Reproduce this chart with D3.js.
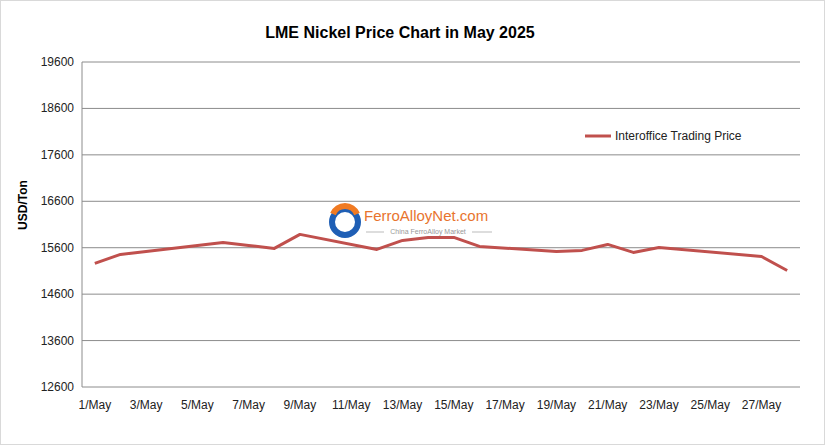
<!DOCTYPE html><html><head><meta charset="utf-8"><script src="https://cdn.jsdelivr.net/npm/d3@7"></script>
<style>body{margin:0;background:#fff;font-family:"Liberation Sans",Arial,sans-serif}</style></head><body><svg id="c" width="825" height="445"></svg><script>
const days = d3.range(1,29).map(d=>d+"/May");
const tradeDays = [1,2,6,7,8,9,12,13,14,15,16,19,20,21,22,23,27,28];
const prices = [15262,15456,15714,15650,15585,15887,15563,15757,15822,15822,15628,15520,15542,15671,15499,15606,15412,15110];
const yTicks = [12600,13600,14600,15600,16600,17600,18600,19600];
const seriesName = "Interoffice Trading Price";
const svg=d3.select("#c");
svg.append("rect").attr("x",0.5).attr("y",0.5).attr("width",824).attr("height",444).attr("fill","#fff").attr("stroke","#d9d9d9");
const L=82,R=800,T=62,B=387;
const x=d3.scaleBand().domain(days).range([L,R]);
const y=d3.scaleLinear().domain([12600,19600]).range([B,T]);
svg.append("g").selectAll("line").data(yTicks).join("line").attr("x1",L).attr("x2",R).attr("y1",d=>y(d)).attr("y2",d=>y(d)).attr("stroke","#8c8c8c").attr("stroke-width",1);
svg.append("line").attr("x1",L).attr("x2",L).attr("y1",T).attr("y2",B).attr("stroke","#8c8c8c");
svg.append("g").selectAll("text").data(yTicks).join("text").attr("x",L-8).attr("y",d=>y(d)+4).attr("text-anchor","end").attr("font-size",12).attr("fill","#222").text(d=>d);
svg.append("g").selectAll("text").data(days.filter((d,i)=>i%2==0)).join("text").attr("x",d=>x(d)+x.bandwidth()/2).attr("y",409).attr("text-anchor","middle").attr("font-size",12).attr("fill","#222").text(d=>d);
svg.append("text").attr("x",400).attr("y",38).attr("text-anchor","middle").attr("font-size",16).attr("font-weight","bold").text("LME Nickel Price Chart in May 2025");
svg.append("text").attr("transform","translate(27,205) rotate(-90)").attr("text-anchor","middle").attr("font-size",12).attr("font-weight","bold").text("USD/Ton");
// watermark
const wm=svg.append("g");
wm.append("circle").attr("cx",345).attr("cy",222).attr("r",13).attr("fill","none").attr("stroke","#1f5fb5").attr("stroke-width",6);
wm.append("path").attr("d","M333,214 A13,13 0 0 1 357,214").attr("fill","none").attr("stroke","#f07a22").attr("stroke-width",6);
wm.append("text").attr("x",364).attr("y",221).attr("font-size",15).attr("fill","#e8742e").text("FerroAlloyNet.com");
wm.append("text").attr("x",428).attr("y",234).attr("text-anchor","middle").attr("font-size",7).attr("fill","#999").text("China FerroAlloy Market");
wm.append("line").attr("x1",366).attr("x2",384).attr("y1",232).attr("y2",232).attr("stroke","#bbb");
wm.append("line").attr("x1",472).attr("x2",492).attr("y1",232).attr("y2",232).attr("stroke","#bbb");
const line=d3.line().x((d,i)=>x(days[tradeDays[i]-1])+x.bandwidth()/2).y(d=>y(d));
svg.append("path").datum(prices).attr("d",line).attr("fill","none").attr("stroke","#c0504d").attr("stroke-width",3).attr("stroke-linejoin","round");
svg.append("line").attr("x1",585).attr("x2",611).attr("y1",136).attr("y2",136).attr("stroke","#c0504d").attr("stroke-width",3);
svg.append("text").attr("x",615).attr("y",140).attr("font-size",12).attr("fill","#222").text(seriesName);
</script></body></html>
